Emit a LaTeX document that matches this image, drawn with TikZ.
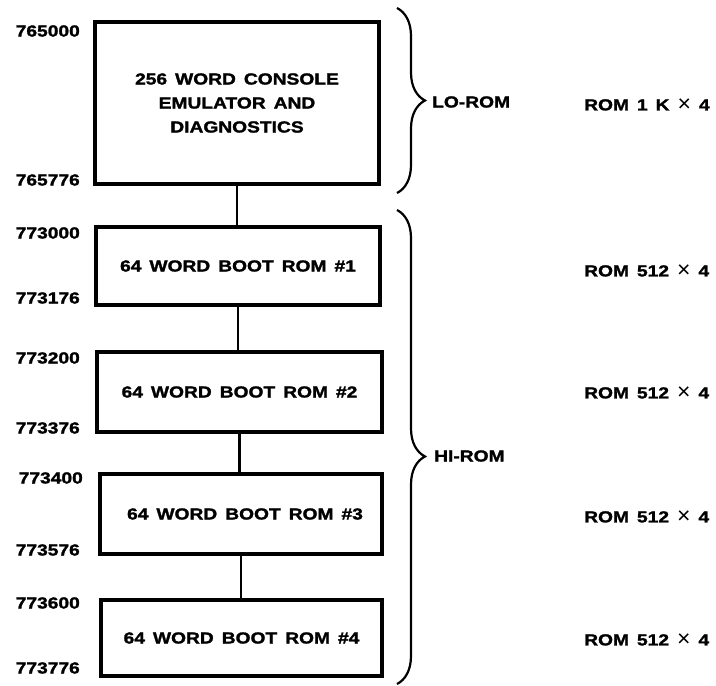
\documentclass[tikz,border=0pt]{standalone}
\usepackage{fontspec}
\usetikzlibrary{decorations.pathreplacing}
\newfontfamily\labfont[FakeStretch=1.2,WordSpace=1.5,FakeBold=1.6]{Liberation Sans Bold}
\newfontfamily\timesfont{Liberation Sans}
\newcommand{\bigtimes}{\raisebox{-1pt}{\timesfont\fontsize{23}{24}\selectfont ×}}
\begin{document}
\begin{tikzpicture}[x=1pt,y=-1pt,
  every node/.style={font=\labfont\fontsize{16}{24}\selectfont, inner sep=0pt},
  membox/.style={draw, line width=3.4pt, align=center},
  addr/.style={anchor=east},
  link/.style={line width=2.4pt},
  bracepath/.style={line width=2.2pt, decorate, decoration={brace, amplitude=28pt}}]
\useasboundingbox (0,0) rectangle (716,686);
% boxes
\node[membox, minimum width=284pt, minimum height=162pt] (big) at (237,103)
  {256 WORD CONSOLE\\EMULATOR AND\\DIAGNOSTICS};
\node[membox, minimum width=284pt, minimum height=78pt] (b1) at (238,266) {64 WORD BOOT ROM \#1};
\node[membox, minimum width=285pt, minimum height=80pt] (b2) at (239.5,392) {64 WORD BOOT ROM \#2};
\node[membox, minimum width=282pt, minimum height=80pt] (b3) at (241,514) {\hspace{8pt}64 WORD BOOT ROM \#3};
\node[membox, minimum width=281pt, minimum height=76pt] (b4) at (241.5,638) {64 WORD BOOT ROM \#4};
% connectors
\draw[link] (big.south) -- (big.south |- b1.north);
\draw[link] (b1.south) -- (b1.south |- b2.north);
\draw[link] (b2.south) -- (b2.south |- b3.north);
\draw[link] (b3.south) -- (b3.south |- b4.north);
% addresses
\node[addr] (a1) at (80,31) {765000};
\node[addr] (a2) at (80,180) {765776};
\node[addr] (a3) at (80,233) {773000};
\node[addr] (a4) at (80,298) {773176};
\node[addr] (a5) at (80,358) {773200};
\node[addr] (a6) at (80,428) {773376};
\node[addr] (a7) at (83,478) {773400};
\node[addr] (a8) at (80,550) {773576};
\node[addr] (a9) at (80,603) {773600};
\node[addr] (a10) at (80,668) {773776};
% braces
\coordinate (lotop) at (397,8);
\coordinate (lobot) at (397,193);
\coordinate (hitop) at (397,210);
\coordinate (hibot) at (397,684);
\draw[bracepath] (lotop) -- (lobot);
\draw[bracepath, decoration={aspect=0.52}] (hitop) -- (hibot);
\node[anchor=west] (lo) at (432,102) {LO-ROM};
\node[anchor=west] (hi) at (434,456) {HI-ROM};
% sizes
\node[anchor=west] (s0) at (584,105) {ROM 1 K \bigtimes{} 4};
\node[anchor=west] (s1) at (584,271) {ROM 512 \bigtimes{} 4};
\node[anchor=west] (s2) at (584,393) {ROM 512 \bigtimes{} 4};
\node[anchor=west] (s3) at (584,517) {ROM 512 \bigtimes{} 4};
\node[anchor=west] (s4) at (584,640) {ROM 512 \bigtimes{} 4};
\end{tikzpicture}
\end{document}
